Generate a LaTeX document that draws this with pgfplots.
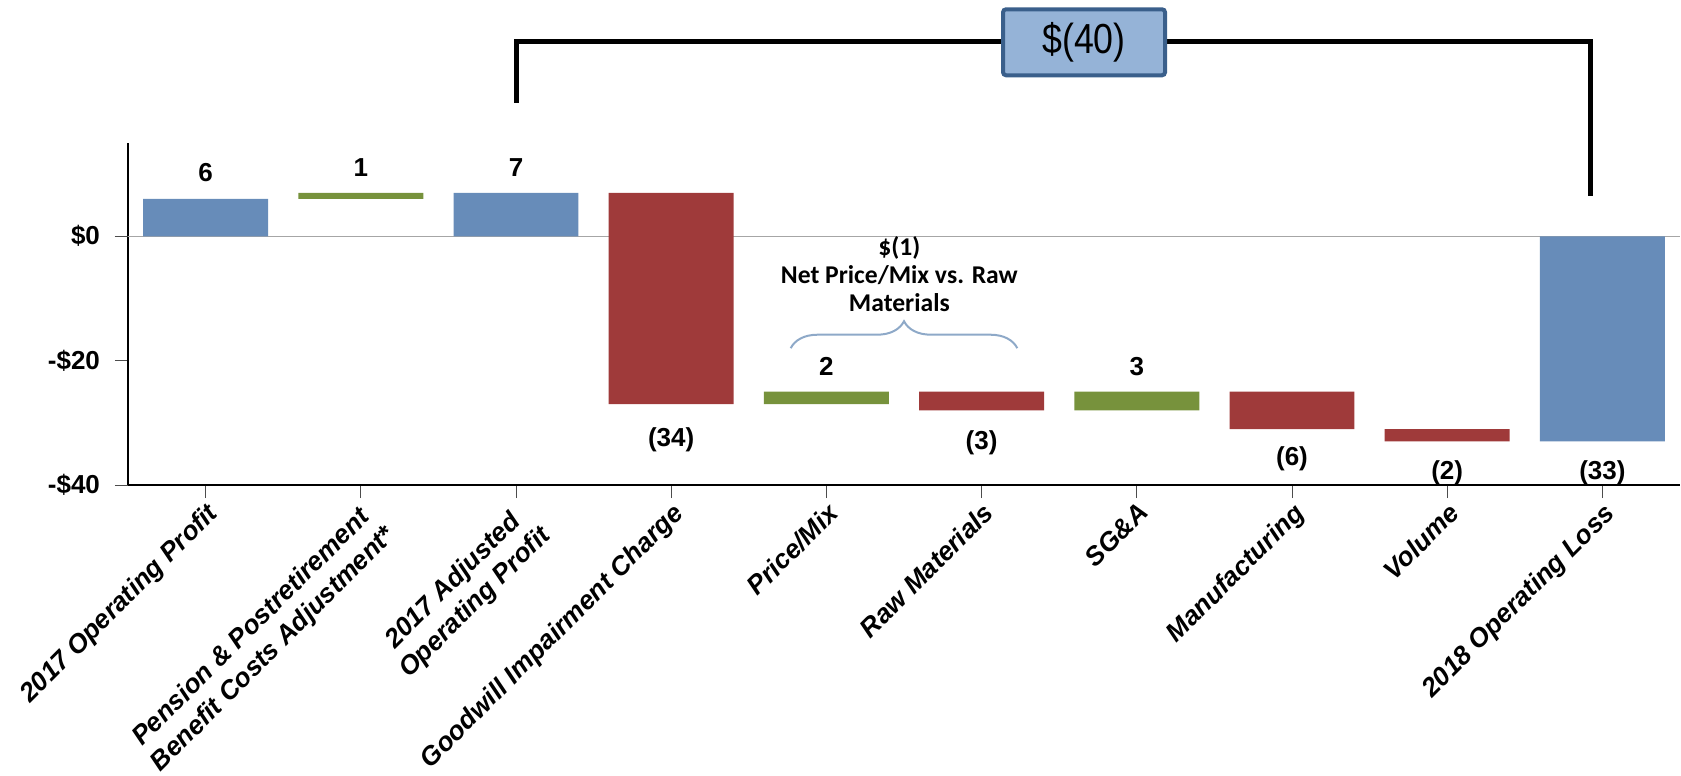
\documentclass[border=0pt]{standalone}
\usepackage{fontspec}
\setmainfont{Liberation Sans}
\newfontfamily\calibri{Carlito}
\newfontfamily\narrowf[FakeStretch=0.85]{Liberation Sans}
\usepackage{pgfplots}
\usepackage{pgfplotstable}
\pgfplotsset{compat=1.18}
\usetikzlibrary{decorations.pathreplacing}
\definecolor{cblue}{HTML}{678CB9}
\definecolor{cgreen}{HTML}{77923C}
\definecolor{cred}{HTML}{9F3A3A}
\definecolor{boxfill}{HTML}{95B3D7}
\definecolor{boxdraw}{HTML}{3A5F8B}
\definecolor{bracecol}{HTML}{8EA9C8}

\pgfplotstableread{
x base blue green red
0 0 6 0 0
1 6 0 1 0
2 0 7 0 0
3 -27 0 0 34
4 -27 0 2 0
5 -28 0 0 3
6 -28 0 3 0
7 -31 0 0 6
8 -33 0 0 2
9 -33 33 0 0
}\bars

\pgfplotstableread{
x y lab
0 10.3 6
1 11.1 1
2 11.1 7
3 -32.7 (34)
4 -20.9 2
5 -33.2 (3)
6 -20.9 3
7 -35.8 (6)
8 -38.1 (2)
9 -38.1 (33)
}\labs

\pgfplotsset{common/.style={
  at={(0,0)}, anchor=south west,
  scale only axis, width=776pt, height=171pt,
  xmin=-0.5, xmax=9.5, ymin=-40, ymax=15,
}}

\begin{document}
\begin{tikzpicture}
\begin{axis}[common,
  ybar stacked, stack negative=on previous, bar width=0.805,
  axis lines*=left,
  axis line style={line width=1.2pt, black},
  xtick={0,...,9},
  xticklabels={{2017 Operating Profit},{Pension \& Postretirement\\Benefit Costs Adjustment*},{2017 Adjusted\\Operating Profit},{Goodwill Impairment Charge},{Price/Mix},{Raw Materials},{SG\&A},{Manufacturing},{Volume},{2018 Operating Loss}},
  ytick={-40,-20,0}, yticklabels={-\$40,-\$20,\$0},
  tick align=outside, major tick length=6.5pt,
  tick style={line width=0.5pt, black!70},
  xticklabel style={rotate=45, anchor=north east, align=center, font=\bfseries\itshape\fontsize{13.2}{15.5}\selectfont, inner sep=1pt},
  yticklabel style={font=\bfseries\fontsize{13}{14}\selectfont, xshift=-4pt},
  extra y ticks={0}, extra y tick labels={},
  extra y tick style={grid=major, major grid style={color=black!35, line width=0.6pt}},
]
\addplot[draw=none, fill=none] table[x=x, y=base] {\bars};
\addplot[draw=none, fill=cblue] table[x=x, y=blue] {\bars};
\addplot[draw=none, fill=cgreen] table[x=x, y=green] {\bars};
\addplot[draw=none, fill=cred] table[x=x, y=red] {\bars};
\end{axis}
\begin{axis}[common, hide axis, clip=false]
\addplot[draw=none, nodes near coords, point meta=explicit symbolic,
  every node near coord/.style={anchor=center, font=\bfseries\fontsize{13}{14}\selectfont}]
  table[x=x, y=y, meta=lab] {\labs};
\draw[line width=2.5pt, black, line join=miter] (axis cs:2,21.5) -- (axis cs:2,31.3) -- (axis cs:8.92,31.3) -- (axis cs:8.92,6.4);
\node[draw=boxdraw, fill=boxfill, line width=2pt, rounded corners=1.5pt, minimum width=81pt, minimum height=33pt, inner sep=0pt, font=\narrowf\fontsize{21}{21}\selectfont] at (axis cs:5.66,31.2) {\$(40)};
\draw[bracecol, line width=1pt, decorate, decoration={brace, amplitude=13.5pt}] (axis cs:3.77,-18) -- (axis cs:5.23,-18);
\node[align=center, font=\calibri\bfseries\fontsize{12.8}{14}\selectfont] at (axis cs:4.47,-6.1) {\$(1)\\Net Price/Mix vs. Raw\\Materials};
\end{axis}
\pgfresetboundingbox
\path[use as bounding box] (-64pt,-145.5pt) rectangle (776.5pt,242.5pt);
\end{tikzpicture}
\end{document}
